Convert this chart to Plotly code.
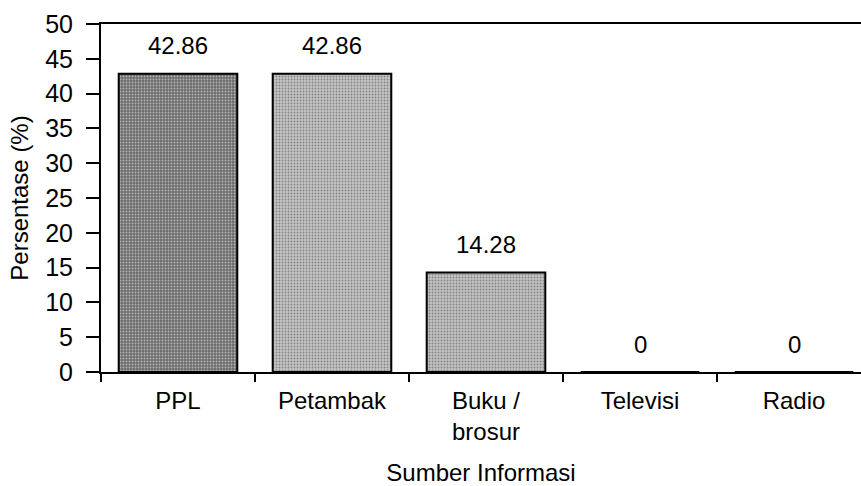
import plotly.graph_objects as go

categories = ["PPL", "Petambak", "Buku /<br>brosur", "Televisi", "Radio"]
values = [42.86, 42.86, 14.28, 0, 0]
bar_colors = ["#6c6c6c", "#c4c4c4", "#c2c2c2", "#c2c2c2", "#c2c2c2"]
y_ticks = [0, 5, 10, 15, 20, 25, 30, 35, 40, 45, 50]

FONT = "Liberation Sans, Arial, sans-serif"

fig = go.Figure()
fig.add_trace(go.Bar(
    x=categories,
    y=values,
    width=0.77,
    marker=dict(
        color=bar_colors,
        line=dict(color="black", width=2),
        pattern=dict(shape=".", fillmode="overlay", fgcolor="#1a1a1a", size=3, solidity=0.3),
    ),
    showlegend=False,
    hoverinfo="x+y",
))

for c, v in zip(categories, values):
    fig.add_annotation(x=c, y=v, text=f"{v:g}", showarrow=False, yanchor="middle",
                       yshift=28, font=dict(family=FONT, size=24, color="black"))

fig.update_layout(
    width=861, height=486,
    margin=dict(l=101, r=0, t=24, b=114),
    paper_bgcolor="white", plot_bgcolor="white",
    font=dict(family=FONT, size=24, color="black"),
)
fig.update_xaxes(
    range=[-0.5, 4.435], automargin=False,
    showline=True, linecolor="black", linewidth=2, mirror=True,
    ticks="outside", tickson="boundaries", ticklen=8, tickcolor="black", tickwidth=2,
    tickfont=dict(family=FONT, size=24),
    ticklabelstandoff=6,
    title=dict(text="Sumber Informasi", font=dict(family=FONT, size=24), standoff=24),
    showgrid=False,
)
fig.update_yaxes(
    range=[0, 50], tickvals=y_ticks, automargin=False,
    showline=True, linecolor="black", linewidth=2,
    ticks="outside", ticklen=13, tickcolor="black", tickwidth=2,
    tickfont=dict(family=FONT, size=25),
    ticklabelstandoff=8,
    title=dict(text="Persentase (%)", font=dict(family=FONT, size=24), standoff=10),
    showgrid=False, zeroline=False,
)

fig.write_html("out.html", config={"displayModeBar": False},
               post_script="document.body.style.margin='0';")
